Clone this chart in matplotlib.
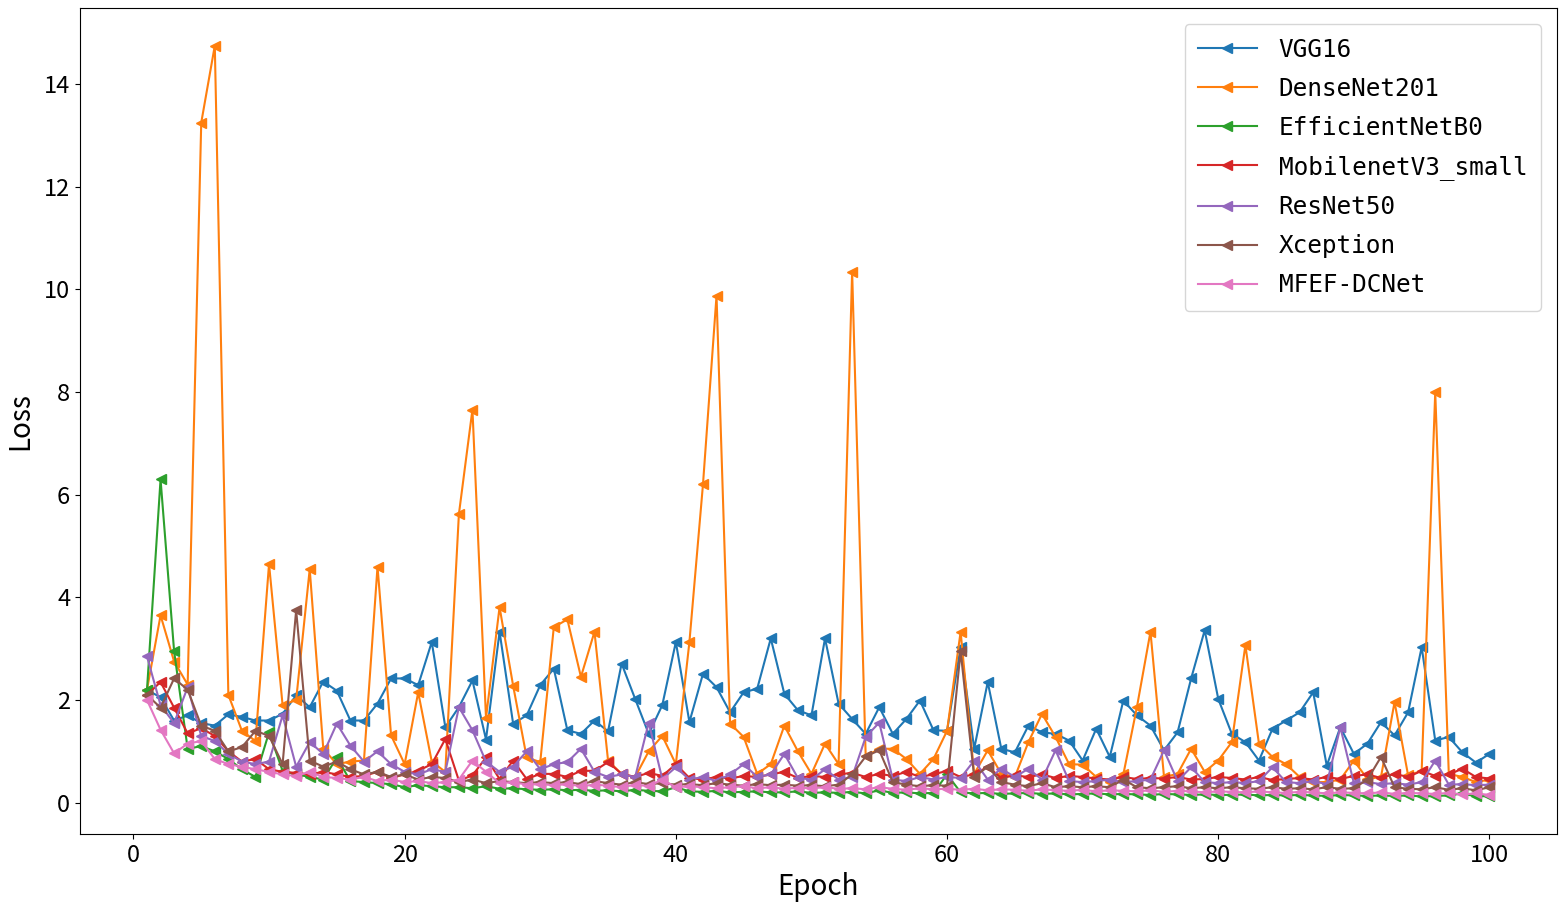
import matplotlib
matplotlib.use("Agg")
import matplotlib.pyplot as plt
import numpy as np

epochs = list(range(1, 101))

vgg16 = [2.2, 2.05, 1.6, 1.7, 1.55, 1.5, 1.72, 1.67, 1.6, 1.6,
         1.73, 2.09, 1.86, 2.36, 2.18, 1.6, 1.6, 1.93, 2.42, 2.42,
         2.29, 3.13, 1.47, 1.86, 2.38, 1.23, 3.33, 1.54, 1.7, 2.29,
         2.61, 1.41, 1.34, 1.6, 1.39, 2.71, 2.02, 1.34, 1.9, 3.13,
         1.57, 2.51, 2.25, 1.76, 2.15, 2.22, 3.2, 2.12, 1.8, 1.7,
         3.2, 1.93, 1.63, 1.34, 1.86, 1.34, 1.63, 1.99, 1.41, 1.4,
         3.03, 1.05, 2.35, 1.05, 0.98, 1.5, 1.37, 1.34, 1.21, 0.82,
         1.44, 0.89, 1.99, 1.7, 1.5, 1.02, 1.37, 2.42, 3.36, 2.02,
         1.34, 1.18, 0.82, 1.44, 1.6, 1.76, 2.15, 0.72, 1.47, 0.95,
         1.15, 1.57, 1.31, 1.76, 3.03, 1.21, 1.28, 0.98, 0.78, 0.95]

densenet201 = [2.2, 3.65, 2.75, 2.3, 13.25, 14.75, 2.1, 1.4, 1.2, 4.65,
               1.9, 2.0, 4.55, 1.05, 0.75, 0.8, 0.82, 4.6, 1.31, 0.75,
               2.15, 0.8, 0.6, 5.62, 7.66, 1.65, 3.81, 2.28, 0.88, 0.79,
               3.42, 3.57, 2.45, 3.33, 0.82, 0.56, 0.5, 1.0, 1.3, 0.75,
               3.13, 6.2, 9.88, 1.54, 1.28, 0.56, 0.75, 1.5, 1.0, 0.56,
               1.15, 0.75, 10.35, 0.9, 1.05, 1.05, 0.85, 0.56, 0.85, 1.4,
               3.33, 0.56, 1.02, 0.56, 0.5, 1.18, 1.73, 1.28, 0.75, 0.74,
               0.5, 0.4, 0.55, 1.86, 3.33, 0.5, 0.56, 1.05, 0.6, 0.82,
               1.18, 3.07, 1.15, 0.89, 0.75, 0.5, 0.4, 0.4, 0.45, 0.82,
               0.46, 0.5, 1.96, 0.53, 0.62, 8.0, 0.56, 0.5, 0.4, 0.45]

efficientnetb0 = [2.2, 6.3, 2.95, 1.05, 1.1, 1.0, 0.85, 0.65, 0.5, 1.37,
                  0.62, 0.55, 0.5, 0.45, 0.88, 0.42, 0.4, 0.38, 0.36, 0.3,
                  0.34, 0.32, 0.3, 0.3, 0.28, 0.32, 0.27, 0.28, 0.26, 0.25,
                  0.26, 0.24, 0.25, 0.23, 0.24, 0.22, 0.25, 0.23, 0.22, 0.3,
                  0.22, 0.21, 0.23, 0.2, 0.21, 0.22, 0.2, 0.2, 0.22, 0.19,
                  0.2, 0.19, 0.21, 0.18, 0.24, 0.19, 0.2, 0.18, 0.19, 0.55,
                  0.2, 0.18, 0.19, 0.17, 0.18, 0.19, 0.17, 0.18, 0.16, 0.17,
                  0.18, 0.16, 0.17, 0.16, 0.15, 0.17, 0.16, 0.15, 0.16, 0.15,
                  0.15, 0.16, 0.14, 0.15, 0.14, 0.15, 0.14, 0.13, 0.15, 0.14,
                  0.13, 0.14, 0.13, 0.14, 0.12, 0.13, 0.14, 0.18, 0.12, 0.13]

mobilenetv3 = [2.1, 2.35, 1.85, 1.35, 1.45, 1.3, 1.0, 0.8, 0.85, 0.65,
               0.6, 0.58, 0.55, 0.6, 0.55, 0.5, 0.52, 0.6, 0.48, 0.55,
               0.62, 0.75, 1.24, 0.43, 0.53, 0.88, 0.46, 0.82, 0.46, 0.56,
               0.56, 0.5, 0.62, 0.62, 0.79, 0.56, 0.5, 0.58, 0.52, 0.75,
               0.48, 0.45, 0.5, 0.47, 0.52, 0.5, 0.55, 0.6, 0.48, 0.52,
               0.5, 0.55, 0.58, 0.5, 0.56, 0.52, 0.6, 0.5, 0.55, 0.62,
               0.5, 0.55, 0.7, 0.48, 0.53, 0.5, 0.55, 0.48, 0.52, 0.5,
               0.47, 0.45, 0.5, 0.46, 0.48, 0.47, 0.5, 0.45, 0.46, 0.5,
               0.48, 0.45, 0.5, 0.44, 0.46, 0.48, 0.45, 0.5, 0.46, 0.52,
               0.55, 0.48, 0.56, 0.5, 0.62, 0.52, 0.55, 0.66, 0.5, 0.47]

resnet50 = [2.85, 1.9, 1.55, 2.25, 1.3, 1.2, 0.95, 0.8, 0.75, 0.8,
            1.7, 0.7, 1.18, 0.95, 1.54, 1.11, 0.8, 1.0, 0.75, 0.6,
            0.55, 0.65, 0.6, 1.86, 1.41, 0.8, 0.6, 0.7, 1.0, 0.65,
            0.75, 0.79, 1.05, 0.6, 0.5, 0.55, 0.5, 1.56, 0.46, 0.69,
            0.45, 0.5, 0.42, 0.55, 0.75, 0.5, 0.55, 0.95, 0.48, 0.45,
            0.65, 0.45, 0.5, 1.28, 1.56, 0.45, 0.42, 0.5, 0.45, 0.5,
            0.48, 0.82, 0.45, 0.66, 0.5, 0.66, 0.45, 1.02, 0.42, 0.4,
            0.42, 0.45, 0.4, 0.42, 0.45, 1.02, 0.42, 0.69, 0.4, 0.38,
            0.4, 0.38, 0.42, 0.69, 0.4, 0.38, 0.42, 0.36, 1.47, 0.38,
            0.4, 0.36, 0.38, 0.35, 0.4, 0.82, 0.35, 0.36, 0.34, 0.35]

xception = [2.1, 1.85, 2.42, 2.2, 1.5, 1.4, 1.0, 1.08, 1.4, 1.3,
            0.75, 3.75, 0.82, 0.7, 0.8, 0.65, 0.55, 0.6, 0.5, 0.55,
            0.45, 0.5, 0.48, 0.4, 0.45, 0.38, 0.42, 0.4, 0.38, 0.4,
            0.38, 0.4, 0.36, 0.42, 0.38, 0.35, 0.4, 0.36, 0.38, 0.35,
            0.36, 0.34, 0.38, 0.35, 0.33, 0.36, 0.34, 0.35, 0.33, 0.34,
            0.32, 0.35, 0.55, 0.9, 1.02, 0.4, 0.35, 0.32, 0.34, 0.33,
            2.95, 0.5, 0.7, 0.4, 0.35, 0.32, 0.38, 0.3, 0.32, 0.3,
            0.32, 0.3, 0.45, 0.3, 0.28, 0.3, 0.32, 0.28, 0.3, 0.28,
            0.3, 0.28, 0.27, 0.3, 0.27, 0.28, 0.26, 0.3, 0.27, 0.28,
            0.45, 0.89, 0.3, 0.27, 0.26, 0.3, 0.25, 0.28, 0.24, 0.3]

mfef_dcnet = [2.0, 1.42, 0.96, 1.15, 1.2, 0.85, 0.75, 0.7, 0.65, 0.6,
              0.55, 0.52, 0.6, 0.5, 0.48, 0.45, 0.5, 0.42, 0.45, 0.4,
              0.42, 0.38, 0.4, 0.45, 0.82, 0.6, 0.38, 0.4, 0.35, 0.36,
              0.34, 0.36, 0.32, 0.35, 0.33, 0.3, 0.35, 0.32, 0.45, 0.3,
              0.32, 0.3, 0.28, 0.3, 0.32, 0.28, 0.3, 0.27, 0.29, 0.28,
              0.3, 0.27, 0.28, 0.26, 0.3, 0.27, 0.25, 0.28, 0.26, 0.27,
              0.25, 0.27, 0.24, 0.26, 0.25, 0.23, 0.26, 0.24, 0.23, 0.25,
              0.22, 0.24, 0.23, 0.22, 0.24, 0.21, 0.23, 0.22, 0.2, 0.22,
              0.21, 0.2, 0.22, 0.2, 0.19, 0.21, 0.2, 0.18, 0.2, 0.19,
              0.18, 0.2, 0.17, 0.19, 0.18, 0.17, 0.19, 0.16, 0.18, 0.15]

series = [
    ("VGG16", vgg16),
    ("DenseNet201", densenet201),
    ("EfficientNetB0", efficientnetb0),
    ("MobilenetV3_small", mobilenetv3),
    ("ResNet50", resnet50),
    ("Xception", xception),
    ("MFEF-DCNet", mfef_dcnet),
]

fig = plt.figure(figsize=(15.66, 9.09), dpi=100)
ax = fig.add_axes([0.051, 0.0825, 0.943, 0.9085])

for name, vals in series:
    ax.plot(epochs, vals, marker="<", markersize=7, linewidth=1.5, label=name)

ax.set_yticks(np.arange(0, 15, 2))
ax.set_xticks(np.arange(0, 101, 20))
ax.tick_params(labelsize=17)
for lab in ax.get_xticklabels() + ax.get_yticklabels():
    lab.set_family("Noto Sans CJK SC")
ax.set_xlabel("Epoch", fontsize=20, family="Noto Sans CJK SC", labelpad=4)
ax.set_ylabel("Loss", fontsize=20, family="Noto Sans CJK SC", labelpad=6)

# legend: monospaced labels, roomy rows like the original
ax.legend(loc="upper right", prop={"family": "DejaVu Sans Mono", "size": 17.6},
          handlelength=2.4, handletextpad=0.9, borderpad=0.55,
          borderaxespad=0.65, labelspacing=0.62)

fig.savefig("out.png", dpi=100)
